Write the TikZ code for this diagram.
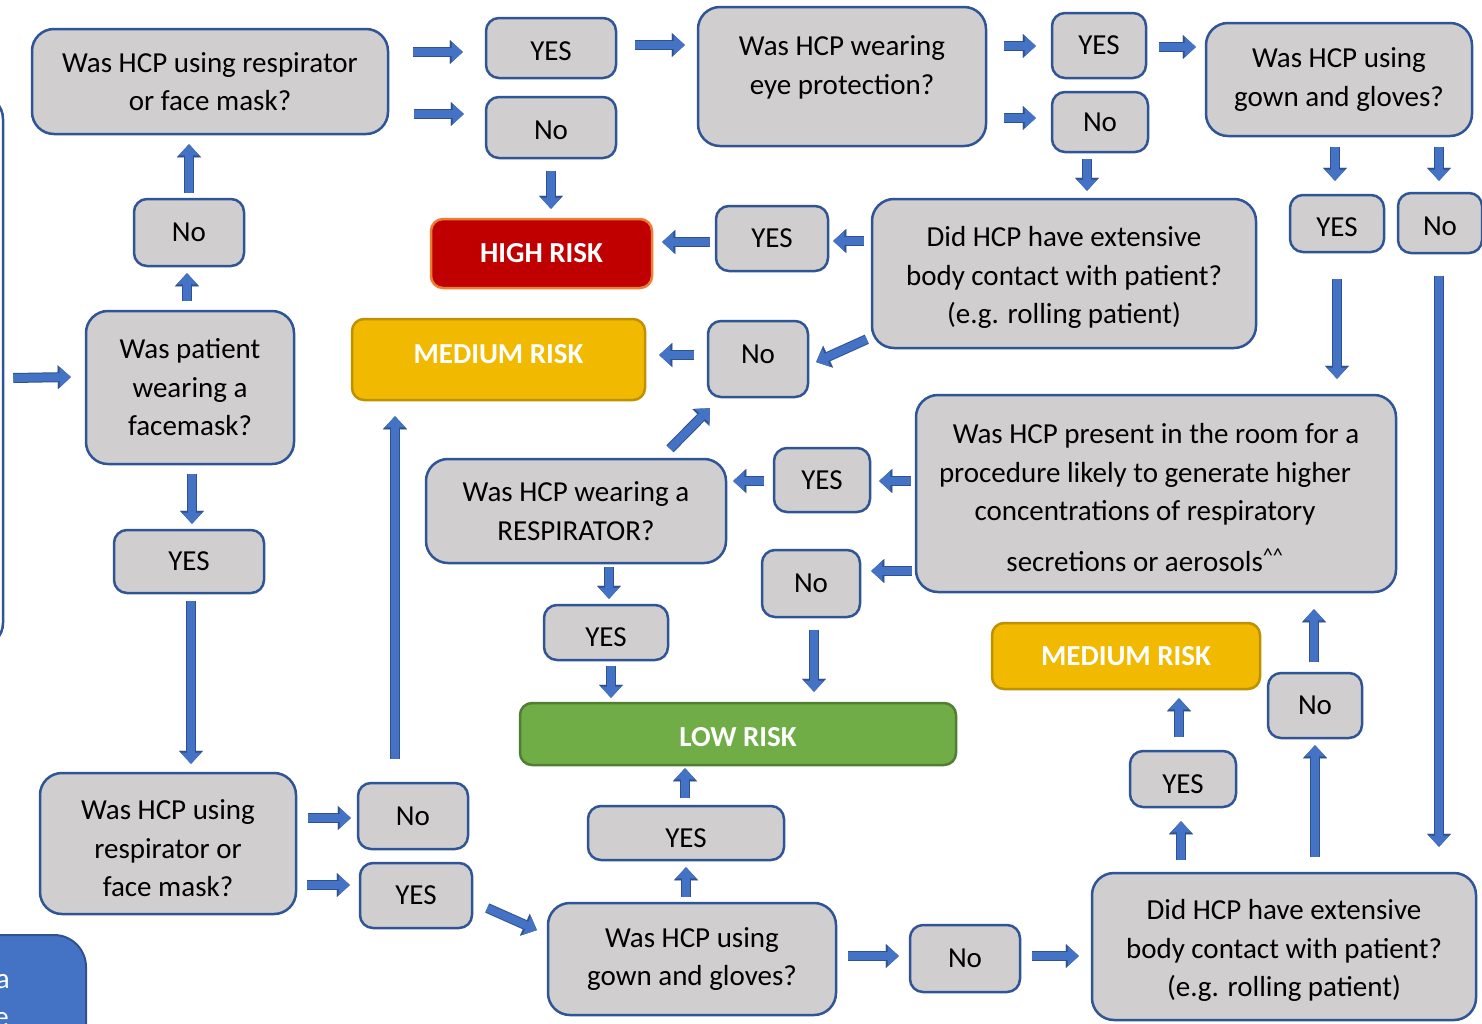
\documentclass[tikz,border=0pt]{standalone}
\usepackage{fontspec}
\setmainfont{Carlito}
\usetikzlibrary{arrows.meta}
\definecolor{gcol}{HTML}{D0CECE}
\definecolor{bcol}{HTML}{2F5597}
\definecolor{ablue}{HTML}{4472C4}
\definecolor{adark}{HTML}{2F528F}
\definecolor{hred}{HTML}{C00000}
\definecolor{horange}{HTML}{ED7D31}
\definecolor{mgold}{HTML}{F1B900}
\definecolor{mgoldd}{HTML}{BF9000}
\definecolor{lgreen}{HTML}{70AD47}
\definecolor{lgreend}{HTML}{507E32}
\newcommand\qfont{\fontsize{29pt}{38.5pt}\selectfont}
\newcommand\rfont{\fontsize{29pt}{35pt}\selectfont\bfseries}
\newcommand\padr{\rule{22pt}{0pt}}
\tikzset{
  qbox/.style={draw=bcol, fill=gcol, line width=2.5pt, rounded corners=22pt, align=center, inner sep=0pt, font=\qfont},
  ansbox/.style={qbox, rounded corners=13pt},
  riskbox/.style={line width=2.5pt, rounded corners=12pt, inner sep=0pt, font=\rfont, text=white},
  lbl/.style={font=\qfont, align=center, inner sep=0pt},
  rlbl/.style={font=\rfont, text=white, inner sep=0pt},
  arr/.style={draw=ablue, line width=8pt, -{Triangle[width=20pt,length=11pt,line width=0.1pt]},
    preaction={draw=adark, line width=10pt, -{Triangle[width=24pt,length=13pt,line width=0.1pt]}}}
}
\begin{document}
\begin{tikzpicture}[x=1pt,y=-1pt]
\useasboundingbox (0,0) rectangle (1482,1023);
\clip (0,0) rectangle (1482,1023);
\fill[white] (0,0) rectangle (1482,1023);

% partial boxes at the left edge
\node[draw=bcol, line width=2.5pt, rounded corners=24pt, minimum width=303pt, minimum height=552pt] (lbox) at (-148.5,371) {};
\node[draw=adark, fill=ablue, line width=2pt, rounded corners=32pt, minimum width=286pt, minimum height=300pt] (blbox) at (-57,1085) {};
\node[text=white, font=\qfont, anchor=base east, inner sep=0pt] (bla) at (10,988) {a};
\node[text=white, font=\qfont, anchor=base east, inner sep=0pt] (ble) at (9,1026) {e};

% question boxes
\node[qbox, minimum width=356pt, minimum height=105pt] (Q1) at (210,81.5) {Was HCP using respirator\\or face mask?};
\node[qbox, minimum width=288pt, minimum height=139pt, label={[lbl,yshift=9pt]center:{Was HCP wearing\\eye protection?}}] (Q2) at (842,76.5) {};
\node[qbox, minimum width=266pt, minimum height=113pt] (Q3) at (1339,79.5) {Was HCP using\\gown and gloves?};
\node[qbox, minimum width=384pt, minimum height=149pt, label={[lbl,yshift=-4pt]center:{Did HCP have extensive\\body contact with patient?\\(e.g. rolling patient)}}] (Q4) at (1064,273.5) {};
\node[qbox, minimum width=208pt, minimum height=153pt] (Q5) at (190,387.5) {Was patient\\wearing a\\facemask?};
\node[qbox, minimum width=256pt, minimum height=141pt, label={[lbl,yshift=-5pt]center:{Was HCP using\\respirator or\\face mask?}}] (Q6) at (168,843.5) {};
\node[qbox, minimum width=300pt, minimum height=104pt] (Q7) at (576,511) {Was HCP wearing a\\RESPIRATOR?};
\node[qbox, minimum width=480pt, minimum height=197pt, label={[lbl,yshift=-4pt]center:{Was HCP present in the room for a\\procedure likely to generate higher\padr\\concentrations of respiratory\padr\\[12pt]secretions or aerosols\textsuperscript{\textasciicircum\textasciicircum}\padr}}] (Q8) at (1156,493.5) {};
\node[qbox, minimum width=288pt, minimum height=112pt] (Q9) at (692,959) {Was HCP using\\gown and gloves?};
\node[qbox, minimum width=384pt, minimum height=147pt, label={[lbl,yshift=-4pt]center:{Did HCP have extensive\\body contact with patient?\\(e.g. rolling patient)}}] (Q10) at (1284,946.5) {};

% answer boxes
\node[ansbox, minimum width=130pt, minimum height=60pt, label={[lbl,yshift=-3pt]center:YES}] (YES1) at (551,48) {};
\node[ansbox, minimum width=130pt, minimum height=61pt, label={[lbl,yshift=-3pt]center:No}] (No1) at (551,127.5) {};
\node[ansbox, minimum width=94pt, minimum height=65pt] (YES2) at (1099,45.5) {YES};
\node[ansbox, minimum width=96pt, minimum height=60pt] (No2) at (1100,122) {No};
\node[ansbox, minimum width=94pt, minimum height=57pt, label={[lbl,yshift=-4pt]center:YES}] (YES3) at (1337,223.5) {};
\node[ansbox, minimum width=84pt, minimum height=60pt, label={[lbl,yshift=-3pt]center:No}] (No3) at (1440,223) {};
\node[ansbox, minimum width=112pt, minimum height=65pt] (YES4) at (772,238.5) {YES};
\node[ansbox, minimum width=100pt, minimum height=76pt, label={[lbl,yshift=5pt]center:No}] (No4) at (758,359) {};
\node[ansbox, minimum width=110pt, minimum height=67pt] (No5) at (189,232.5) {No};
\node[ansbox, minimum width=150pt, minimum height=63pt] (YES5) at (189,561.5) {YES};
\node[ansbox, minimum width=110pt, minimum height=66pt] (No6) at (413,816) {No};
\node[ansbox, minimum width=112pt, minimum height=65pt] (YES6) at (416,895.5) {YES};
\node[ansbox, minimum width=96pt, minimum height=64pt] (YES7) at (822,480) {YES};
\node[ansbox, minimum width=98pt, minimum height=67pt] (No7) at (811,583.5) {No};
\node[ansbox, minimum width=124pt, minimum height=55pt, label={[lbl,yshift=-5pt]center:YES}] (YES8) at (606,632.5) {};
\node[ansbox, minimum width=196pt, minimum height=54pt, label={[lbl,yshift=-5pt]center:YES}] (YES9) at (686,833) {};
\node[ansbox, minimum width=110pt, minimum height=67pt] (No9) at (965,958.5) {No};
\node[ansbox, minimum width=106pt, minimum height=56pt, label={[lbl,yshift=-5pt]center:YES}] (YES10) at (1183,779) {};
\node[ansbox, minimum width=94pt, minimum height=65pt] (No10) at (1315,705.5) {No};

% risk boxes
\node[riskbox, draw=horange, fill=hred, minimum width=221pt, minimum height=69pt] (HIGH) at (541.5,253.5) {HIGH RISK};
\node[riskbox, draw=mgoldd, fill=mgold, minimum width=293pt, minimum height=81pt, label={[rlbl,yshift=5pt]center:MEDIUM RISK}] (MED1) at (498.5,359.5) {};
\node[riskbox, draw=mgoldd, fill=mgold, minimum width=268pt, minimum height=66pt] (MED2) at (1126,656) {MEDIUM RISK};
\node[riskbox, draw=lgreend, fill=lgreen, minimum width=436pt, minimum height=62pt, label={[rlbl,yshift=-3pt]center:LOW RISK}] (LOW) at (738,734) {};

% connectors
\draw[arr] ([xshift=9pt,yshift=-7pt]lbox.east) -- ([xshift=-14pt,yshift=10.5pt]Q5.west);
\draw[arr] ([xshift=-3pt,yshift=9pt]Q5.north) -- ([xshift=-2pt,yshift=-6pt]No5.south);
\draw[arr] ([yshift=5pt]No5.north) -- ([xshift=-21pt,yshift=-9pt]Q1.south);
\draw[arr] ([xshift=2pt,yshift=-9pt]Q5.south) -- ([xshift=3pt,yshift=5pt]YES5.north);
\draw[arr] ([xshift=2pt,yshift=-7pt]YES5.south) -- ([xshift=23pt,yshift=8pt]Q6.north);
\draw[arr] ([xshift=24pt,yshift=29.5pt]Q1.east) -- ([xshift=-22pt,yshift=-4pt]YES1.west);
\draw[arr] ([xshift=25pt,yshift=-32.5pt]Q1.east) -- ([xshift=-21pt,yshift=13.5pt]No1.west);
\draw[arr] ([yshift=-12pt]No1.south) -- ([xshift=9.5pt,yshift=9pt]HIGH.north);
\draw[arr] ([xshift=18pt,yshift=3pt]YES1.east) -- ([xshift=-12pt,yshift=31.5pt]Q2.west);
\draw[arr] ([xshift=17pt,yshift=30.5pt]Q2.east) -- ([xshift=-15pt,yshift=-0.5pt]YES2.west);
\draw[arr] ([xshift=17pt,yshift=-41.5pt]Q2.east) -- ([xshift=-15pt,yshift=4pt]No2.west);
\draw[arr] ([xshift=-13pt,yshift=-6pt]No2.south) -- ([xshift=23pt,yshift=7pt]Q4.north);
\draw[arr] ([xshift=12pt,yshift=-1.5pt]YES2.east) -- ([xshift=-9pt,yshift=32.5pt]Q3.west);
\draw[arr] ([xshift=-4pt,yshift=-10pt]Q3.south) -- ([xshift=-2pt,yshift=13pt]YES3.north);
\draw[arr] ([xshift=100pt,yshift=-10pt]Q3.south) -- ([xshift=-1pt,yshift=11pt]No3.north);
\draw[arr] ([yshift=-26pt]YES3.south) -- ([xshift=181pt,yshift=15pt]Q8.north);
\draw[arr] ([xshift=-1pt,yshift=-22pt]No3.south) -- ([xshift=155pt,yshift=25pt]Q10.north);
\draw[arr] ([xshift=-7pt,yshift=32.5pt]Q4.west) -- ([xshift=4pt,yshift=-2.5pt]YES4.east);
\draw[arr] ([xshift=-5pt,yshift=-3.5pt]YES4.west) -- ([xshift=9pt,yshift=11.5pt]HIGH.east);
\draw[arr] ([xshift=-4pt,yshift=10pt]Q4.south west) -- ([xshift=7pt,yshift=-3pt]No4.east);
\draw[arr] ([xshift=-13pt,yshift=4pt]No4.west) -- ([xshift=13pt,yshift=4.5pt]MED1.east);
\draw[arr] ([xshift=94pt,yshift=9pt]Q7.north) -- ([xshift=-48pt,yshift=-10pt]No4.south);
\draw[arr] ([xshift=-4pt,yshift=12.5pt]Q8.west) -- ([xshift=8pt,yshift=-1pt]YES7.east);
\draw[arr] ([xshift=-9pt,yshift=-1pt]YES7.west) -- ([xshift=6pt,yshift=30pt]Q7.east);
\draw[arr] ([xshift=-3pt,yshift=-77.5pt]Q8.west) -- ([xshift=10pt,yshift=12.5pt]No7.east);
\draw[arr] ([xshift=33pt,yshift=-3pt]Q7.south) -- ([xshift=3pt,yshift=5pt]YES8.north);
\draw[arr] ([xshift=5pt,yshift=-5pt]YES8.south) -- ([xshift=-127pt,yshift=4pt]LOW.north);
\draw[arr] ([xshift=3pt,yshift=-12pt]No7.south) -- ([xshift=76pt,yshift=10pt]LOW.north);
\draw[arr] ([xshift=11pt,yshift=25.5pt]Q6.east) -- ([xshift=-6pt,yshift=-2pt]No6.west);
\draw[arr] ([xshift=10pt,yshift=-41.5pt]Q6.east) -- ([xshift=-9pt,yshift=10.5pt]YES6.west);
\draw[arr] ([xshift=-18pt,yshift=23pt]No6.north) -- ([xshift=-103.5pt,yshift=-15pt]MED1.south);
\draw[arr] ([xshift=14pt,yshift=-12.5pt]YES6.east) -- ([xshift=-10pt,yshift=29pt]Q9.west);
\draw[arr] ([xshift=-6pt,yshift=5pt]Q9.north) -- ([yshift=-6pt]YES9.south);
\draw[arr] ([xshift=-1pt,yshift=7pt]YES9.north) -- ([xshift=-53pt,yshift=-2pt]LOW.south);
\draw[arr] ([xshift=11pt,yshift=3pt]Q9.east) -- ([xshift=-10pt,yshift=2.5pt]No9.west);
\draw[arr] ([xshift=11pt,yshift=2.5pt]No9.east) -- ([xshift=-12pt,yshift=-9.5pt]Q10.west);
\draw[arr] ([xshift=-103pt,yshift=12pt]Q10.north) -- ([xshift=-2pt,yshift=-13pt]YES10.south);
\draw[arr] ([xshift=-4pt,yshift=13pt]YES10.north) -- ([xshift=53pt,yshift=-8pt]MED2.south);
\draw[arr] ([xshift=31pt,yshift=15pt]Q10.north) -- ([yshift=-6pt]No10.south);
\draw[arr] ([xshift=-1pt,yshift=10pt]No10.north) -- ([xshift=158pt,yshift=-16pt]Q8.south);
\end{tikzpicture}
\end{document}
